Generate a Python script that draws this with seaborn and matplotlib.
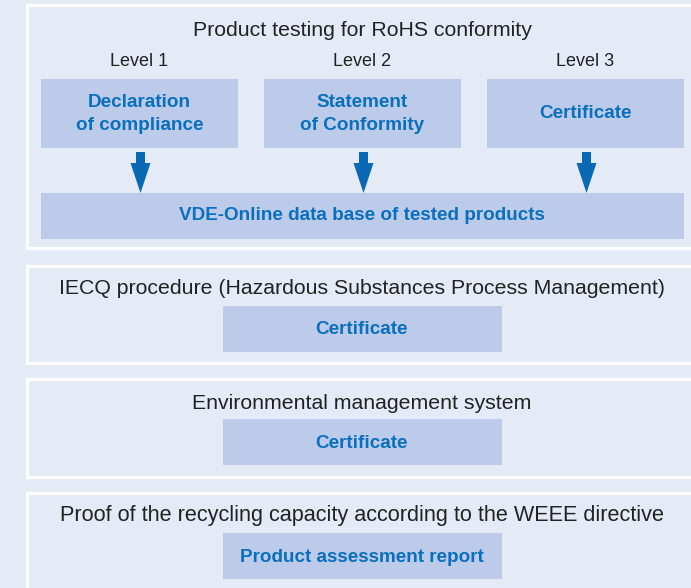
import matplotlib
matplotlib.use("Agg")
import matplotlib.pyplot as plt
import seaborn as sns
from matplotlib.patches import Rectangle

# diagram content
panel_titles = [
    "Product testing for RoHS conformity",
    "IECQ procedure (Hazardous Substances Process Management)",
    "Environmental management system",
    "Proof of the recycling capacity according to the WEEE directive",
]
level_labels = ["Level 1", "Level 2", "Level 3"]
level_boxes = ["Declaration\nof compliance", "Statement\nof Conformity", "Certificate"]
database_box = "VDE-Online data base of tested products"
lower_boxes = ["Certificate", "Certificate", "Product assessment report"]

# layout (pixels)
W, H = 691, 588
bg = "#e4eaf6"
box_c = "#bccbea"
blue = "#0a6fbd"
arrow_c = "#0a69b5"
dark = "#222222"

panels_y = [(5, 248), (266, 363), (379, 477), (493, 600)]
title_y = [30.5, 289, 403.5, 516]
title_size = [15.3, 15.3, 15.3, 15.6]
level_x = [(41, 238), (264, 461), (487, 684)]
lower_box_y = [(306, 352), (419, 465), (533, 579)]

sns.set_theme(style="white")
plt.rcParams["font.family"] = ["Liberation Sans", "DejaVu Sans"]

fig = plt.figure(figsize=(W / 100, H / 100), dpi=100, facecolor=bg)
ax = fig.add_axes([0, 0, 1, 1])
ax.set_xlim(0, W)
ax.set_ylim(H, 0)
ax.axis("off")
ax.set_facecolor(bg)

# panel frames
for (y0, y1), title, ty, fs in zip(panels_y, panel_titles, title_y, title_size):
    ax.add_patch(Rectangle((27, y0), W + 20, y1 - y0, facecolor=bg,
                           edgecolor="white", linewidth=2.4))
    ax.text(362, ty, title, ha="center", va="center", fontsize=fs, color=dark)

# RoHS levels
for (x0, x1), lab, txt in zip(level_x, level_labels, level_boxes):
    xc = (x0 + x1) / 2
    ax.text(xc, 61, lab, ha="center", va="center", fontsize=13, color=dark)
    ax.add_patch(Rectangle((x0, 79), x1 - x0, 69, facecolor=box_c, edgecolor="none"))
    ax.text(xc, 114, txt, ha="center", va="center", fontsize=13.6, color=blue,
            fontweight="bold", linespacing=1.45)
    ax.arrow(xc + 1, 152, 0, 41, width=9, head_width=20, head_length=30,
             length_includes_head=True, color=arrow_c, linewidth=0)

ax.add_patch(Rectangle((41, 193), 643, 46, facecolor=box_c, edgecolor="none"))
ax.text(362, 216, database_box, ha="center", va="center", fontsize=13.6,
        color=blue, fontweight="bold")

# single-box panels
for (y0, y1), txt in zip(lower_box_y, lower_boxes):
    ax.add_patch(Rectangle((223, y0), 279, y1 - y0, facecolor=box_c, edgecolor="none"))
    ax.text(362, (y0 + y1) / 2 + 1, txt, ha="center", va="center", fontsize=13.6,
            color=blue, fontweight="bold")

fig.savefig("out.png", dpi=100, facecolor=bg)
